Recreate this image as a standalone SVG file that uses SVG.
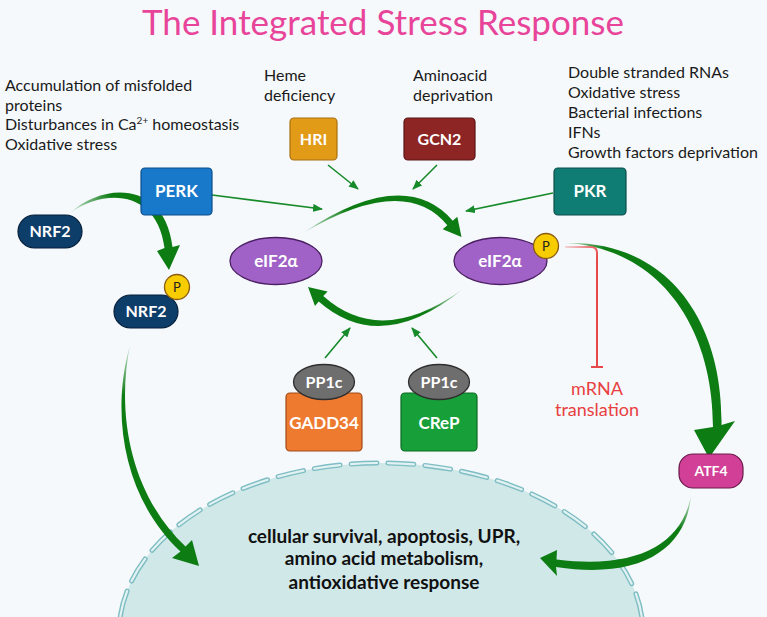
<svg xmlns="http://www.w3.org/2000/svg" width="767" height="617" viewBox="0 0 767 617">
<defs>
<style>
.t{font-family:Lato,"Open Sans","Liberation Sans",sans-serif;font-size:16px;fill:#1a1a1a}
.w{font-family:Lato,"Open Sans","Liberation Sans",sans-serif;fill:#ffffff;text-anchor:middle;font-weight:bold}
.thin{fill:none;stroke:#178a2a;stroke-width:1.6;marker-end:url(#ah)}
.ct{font-family:Lato,"Open Sans","Liberation Sans",sans-serif;font-size:19px;font-weight:bold;fill:#111;text-anchor:middle}
.red{font-family:Lato,"Open Sans","Liberation Sans",sans-serif;font-size:18px;fill:#e84040;text-anchor:middle}
</style>
<marker id="ah" viewBox="0 0 10 8" markerWidth="10" markerHeight="8" refX="9" refY="4" orient="auto" markerUnits="userSpaceOnUse">
<path d="M0,0 L10,4 L0,8 Z" fill="#178a2a"/>
</marker>
<linearGradient id="g1" gradientUnits="userSpaceOnUse" x1="303" y1="233" x2="345" y2="205"><stop offset="0" stop-color="#0c7c13" stop-opacity="0.15"/><stop offset="1" stop-color="#0c7c13"/></linearGradient>
<linearGradient id="g2" gradientUnits="userSpaceOnUse" x1="463" y1="289" x2="430" y2="316"><stop offset="0" stop-color="#0c7c13" stop-opacity="0.15"/><stop offset="1" stop-color="#0c7c13"/></linearGradient>
<linearGradient id="g3" gradientUnits="userSpaceOnUse" x1="70" y1="213" x2="110" y2="192"><stop offset="0" stop-color="#0c7c13" stop-opacity="0.15"/><stop offset="1" stop-color="#0c7c13"/></linearGradient>
<linearGradient id="g4" gradientUnits="userSpaceOnUse" x1="565" y1="243" x2="605" y2="248"><stop offset="0" stop-color="#0c7c13" stop-opacity="0.2"/><stop offset="1" stop-color="#0c7c13"/></linearGradient>
<linearGradient id="g5" gradientUnits="userSpaceOnUse" x1="130" y1="345" x2="121" y2="395"><stop offset="0" stop-color="#0c7c13" stop-opacity="0.15"/><stop offset="1" stop-color="#0c7c13"/></linearGradient>
<linearGradient id="g6" gradientUnits="userSpaceOnUse" x1="691" y1="495" x2="682" y2="530"><stop offset="0" stop-color="#0c7c13" stop-opacity="0.15"/><stop offset="1" stop-color="#0c7c13"/></linearGradient>
<linearGradient id="gr" gradientUnits="userSpaceOnUse" x1="565" y1="247" x2="597" y2="260"><stop offset="0" stop-color="#e84848" stop-opacity="0.2"/><stop offset="1" stop-color="#e84848"/></linearGradient>
</defs>

<rect width="767" height="617" fill="#f5f9fc"/>

<text x="383" y="35" text-anchor="middle" style="font-family:Lato,'Open Sans','Liberation Sans',sans-serif;font-size:35px;font-weight:normal;fill:#e8449a">The Integrated Stress Response</text>

<g id="labels">
<text class="t" x="5" y="91">Accumulation of misfolded</text>
<text class="t" x="5" y="111">proteins</text>
<text class="t" x="5" y="130">Disturbances in Ca<tspan font-size="10" dy="-6">2+</tspan><tspan dy="6"> homeostasis</tspan></text>
<text class="t" x="5" y="150">Oxidative stress</text>
<text class="t" x="264" y="81">Heme</text>
<text class="t" x="264" y="101">deficiency</text>
<text class="t" x="413" y="81">Aminoacid</text>
<text class="t" x="413" y="101">deprivation</text>
<text class="t" x="568" y="78">Double stranded RNAs</text>
<text class="t" x="568" y="98">Oxidative stress</text>
<text class="t" x="568" y="118">Bacterial infections</text>
<text class="t" x="568" y="138">IFNs</text>
<text class="t" x="568" y="158">Growth factors deprivation</text>
</g>

<g id="cell">
<ellipse cx="381" cy="633" rx="262" ry="170" fill="#d0e8e8"/>
<ellipse cx="381" cy="633" rx="262" ry="170" fill="none" stroke="#7dbdc3" stroke-width="5" stroke-dasharray="26 11" stroke-linecap="round"/>
<ellipse cx="381" cy="633" rx="262" ry="170" fill="none" stroke="#e2f2f2" stroke-width="2.2" stroke-dasharray="26 11" stroke-linecap="round"/>
<text class="ct" x="384" y="543">cellular survival, apoptosis, UPR,</text>
<text class="ct" x="384" y="565">amino acid metabolism,</text>
<text class="ct" x="384" y="589">antioxidative response</text>
</g>

<g id="connectors">
<path class="thin" d="M328,165 L358,189"/>
<path class="thin" d="M437,165 L413,189"/>
<path class="thin" d="M212,195 L322,209"/>
<path class="thin" d="M553,193 L466,211"/>
<path class="thin" d="M325,358 L350,328"/>
<path class="thin" d="M437,358 L412,328"/>
<path fill="url(#g1)" d="M303,233 Q404,165 452.7,220.7 L457.3,216.8 L461.5,237 L442.7,229.2 L447.3,225.3 Q405,173 303,233 Z"/>
<path fill="url(#g2)" d="M463,289 Q381,356 318.7,301.4 L315,306 L308,287 L327.6,291.5 L323.3,296.1 Q381,348 463,289 Z"/>
<path fill="url(#g3)" d="M70,213 C105,181 165,182 172.5,247 L180,245 L169,270 L157,251 L164.5,248 C157,190 105,188 70,213 Z"/>
<path fill="url(#g4)" d="M565,243 C665,240 723,318 721.5,425 L735,421 L709,458 L694,430 L713,427 C713,322 655,247 565,243 Z"/>
<path fill="url(#g5)" d="M130,345 C115,420 134,498 185.5,546.5 L192,540 L199,566 L172,558 L180.5,551.5 C127,502 109,420 130,345 Z"/>
<path fill="url(#g6)" d="M691,495 C687,548 642,580 556,567 L557,576 L540,558 L557,550 L556.5,559.5 C640,570 683,542 691,495 Z"/>
<path d="M565,247 H591 Q597,247 597,253 V367" fill="none" stroke="url(#gr)" stroke-width="2"/>
<path d="M591,367 H603" fill="none" stroke="#e84848" stroke-width="2"/>
</g>

<g id="HRI"><rect x="290" y="118" width="47" height="42" rx="4" fill="#e29b17" stroke="#a86f10" stroke-width="1.2"/><text class="w" x="313.5" y="145" font-size="16">HRI</text></g>
<g id="GCN2"><rect x="404" y="118" width="71" height="42" rx="4" fill="#8d2525" stroke="#5a1414" stroke-width="1.2"/><text class="w" x="439.5" y="145" font-size="16">GCN2</text></g>
<g id="PERK"><rect x="141" y="168" width="71" height="47" rx="4" fill="#1878c9" stroke="#0c4d8a" stroke-width="1.2"/><text class="w" x="176.5" y="197" font-size="17">PERK</text></g>
<g id="PKR"><rect x="554" y="168" width="72" height="47" rx="4" fill="#0f7d74" stroke="#0a4f4a" stroke-width="1.2"/><text class="w" x="590" y="197" font-size="17">PKR</text></g>

<g id="NRF2-a"><rect x="18" y="215" width="64" height="33" rx="16.5" fill="#0d3d69" stroke="#061f38" stroke-width="1.2"/><text class="w" x="50" y="237" font-size="16">NRF2</text></g>
<g id="NRF2-b"><rect x="114" y="295" width="64" height="33" rx="16.5" fill="#0d3d69" stroke="#061f38" stroke-width="1.2"/><text class="w" x="146" y="317" font-size="16">NRF2</text>
<circle cx="177" cy="287" r="12.5" fill="#f7cc00" stroke="#8a5a10" stroke-width="1.3"/><text x="177" y="292" text-anchor="middle" style="font-family:Lato,'Liberation Sans',sans-serif;font-size:13px;fill:#222">P</text></g>

<g id="eIF2a-left"><ellipse cx="276" cy="261" rx="46" ry="23.5" fill="#a062c6" stroke="#4b1f63" stroke-width="1.3"/><text class="w" x="276" y="267" font-size="17" font-weight="normal">eIF2α</text></g>
<g id="eIF2a-right"><ellipse cx="500.5" cy="261" rx="46.5" ry="23.5" fill="#a062c6" stroke="#4b1f63" stroke-width="1.3"/><text class="w" x="500" y="267" font-size="17" font-weight="normal">eIF2α</text>
<circle cx="546" cy="246" r="12.5" fill="#f7cc00" stroke="#8a5a10" stroke-width="1.3"/><text x="546" y="251" text-anchor="middle" style="font-family:Lato,'Liberation Sans',sans-serif;font-size:13px;fill:#222">P</text></g>

<g id="GADD34"><rect x="286" y="393" width="76" height="58" rx="4" fill="#ee7a30" stroke="#a04a18" stroke-width="1.2"/><text class="w" x="324" y="429" font-size="17">GADD34</text>
<ellipse cx="324" cy="382" rx="30.5" ry="17.5" fill="#6e6e6e" stroke="#2e2e2e" stroke-width="1.3"/><text class="w" x="324" y="388" font-size="16" font-weight="normal">PP1c</text></g>
<g id="CReP"><rect x="401" y="393" width="76" height="58" rx="4" fill="#17a03a" stroke="#0b6a22" stroke-width="1.2"/><text class="w" x="439" y="429" font-size="17">CReP</text>
<ellipse cx="439" cy="382" rx="30.5" ry="17.5" fill="#6e6e6e" stroke="#2e2e2e" stroke-width="1.3"/><text class="w" x="439" y="388" font-size="16" font-weight="normal">PP1c</text></g>

<g id="mRNA"><text class="red" x="597" y="395">mRNA</text><text class="red" x="597" y="416">translation</text></g>

<g id="ATF4"><rect x="679" y="454" width="64" height="34" rx="14" fill="#d13f97" stroke="#6a1a4a" stroke-width="1.2"/><text class="w" x="711" y="476" font-size="14" font-weight="normal">ATF4</text></g>
</svg>
